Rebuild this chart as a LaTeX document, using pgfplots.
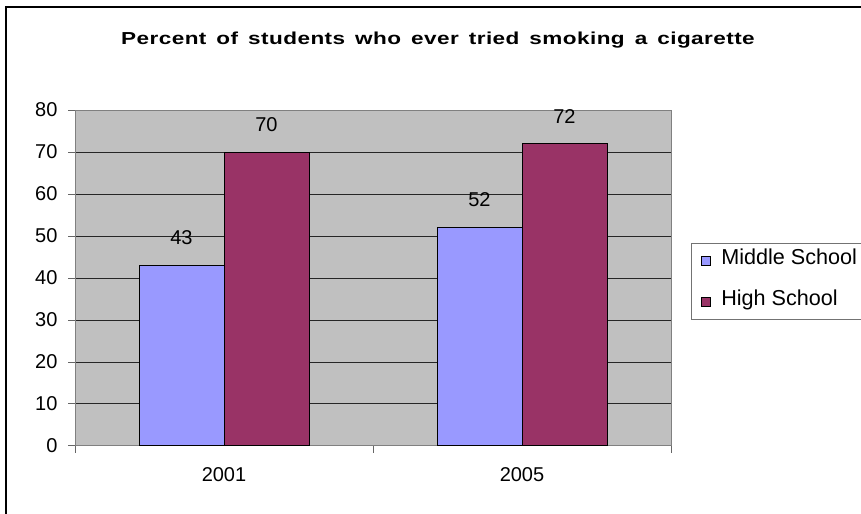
\documentclass[border=0pt]{standalone}
\usepackage{fontspec}
\setmainfont{Liberation Sans}
\newfontfamily\titlefont[FakeStretch=1.3,LetterSpace=2.5,WordSpace=1.5]{Liberation Sans}
\usepackage{pgfplots}
\pgfplotsset{compat=1.18}
\definecolor{plotbg}{HTML}{C0C0C0}
\definecolor{msblue}{HTML}{9999FF}
\definecolor{hsred}{HTML}{993366}
\begin{document}
\begin{tikzpicture}
\path[use as bounding box] (0,0) rectangle (645.75pt,385.5pt);
\draw[black, line width=1pt] (4.5pt,-2pt) -- (4.5pt,380.25pt) -- (650pt,380.25pt);
\node[font=\titlefont\bfseries\fontsize{13}{15}\selectfont, anchor=center, inner sep=0pt] at (328.5pt,355.1pt) {Percent of students who ever tried smoking a cigarette};
\begin{axis}[
  at={(56.25pt,51pt)}, anchor=south west,
  scale only axis, width=447pt, height=252pt,
  /pgf/number format/assume math mode=true,
  ybar=0pt, bar width=63.75pt,
  xmin=-0.5, xmax=1.5, ymin=0, ymax=80,
  xtick={-0.5,0.5,1.5}, xticklabels={},
  extra x ticks={0,1}, extra x tick labels={2001,2005},
  extra x tick style={xtick style={draw=none}},
  ytick={0,10,...,80},
  tick align=outside, tick pos=left,
  major tick length=5pt,
  xtick style={draw=black!60, line width=0.75pt},
  ytick style={draw=black!60, line width=0.75pt},
  ymajorgrids, major grid style={draw=black!85, line width=0.75pt},
  axis background/.style={fill=plotbg},
  axis line style={draw=black!50, line width=0.75pt},
  tick label style={font=\fontsize{15}{18}\selectfont},
  yticklabel style={inner sep=0pt, xshift=-8pt},
  xticklabel style={inner sep=0pt, yshift=-11pt},
  nodes near coords,
  nodes near coords style={font=\fontsize{15}{18}\selectfont, inner sep=0pt, anchor=south, yshift=15pt},
  legend style={at={(1.0336,0.603)}, anchor=north west, draw=black!55, line width=0.75pt,
    font=\fontsize{16.2}{19}\selectfont, inner xsep=7pt, inner ysep=8pt, row sep=20.5pt,
    nodes={inner xsep=8pt, inner ysep=0pt, text height=0.75em, text depth=0.25em},
    cells={anchor=west}},
  legend image code/.code={\draw[#1, draw=black, line width=0.75pt] (0pt,-3.3pt) rectangle (6.6pt,3.3pt);},
]
\addplot[fill=msblue, draw=black, line width=0.75pt] coordinates {(0,43) (1,52)};
\addplot[fill=hsred, draw=black, line width=0.75pt] coordinates {(0,70) (1,72)};
\legend{Middle School, High School}
\end{axis}
\end{tikzpicture}
\end{document}
